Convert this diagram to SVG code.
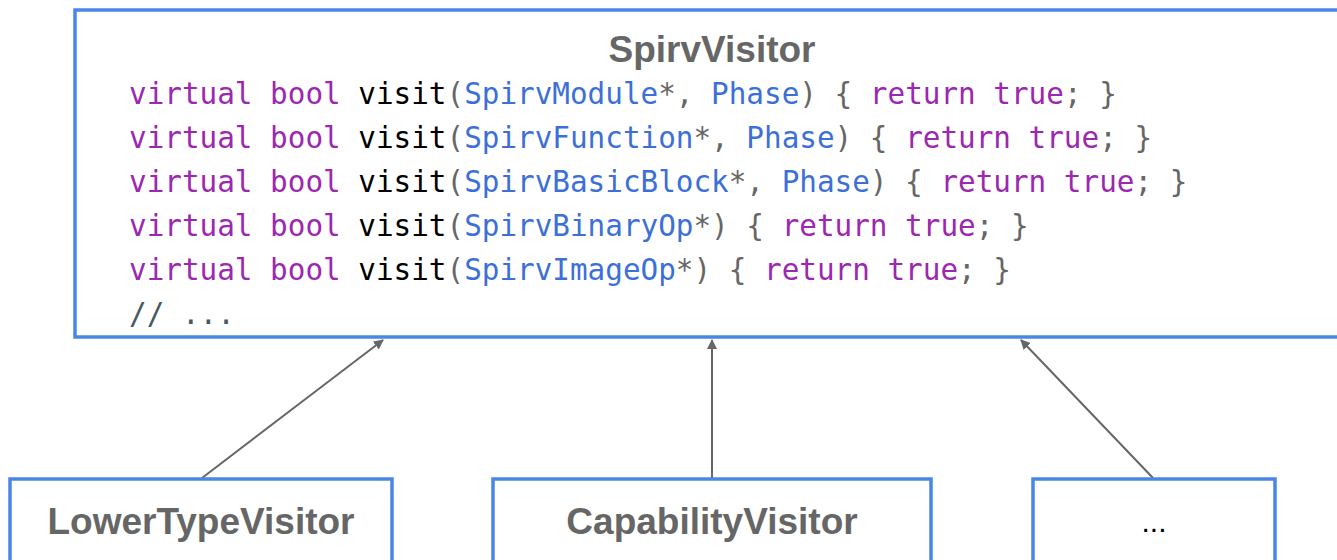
<svg xmlns="http://www.w3.org/2000/svg" width="1337" height="560" viewBox="0 0 1337 560">
<style>
.box{fill:#fff;stroke:#4a86e8;stroke-width:3.5}
.title{font-family:"Liberation Sans",Arial,sans-serif;font-weight:bold;font-size:37px;fill:#666;text-anchor:middle}
.code{font-family:"DejaVu Sans Mono","Liberation Mono",monospace;font-size:29.3px;fill:#666}
.k{fill:#9c27b0}
.t{fill:#3c6fd8}
.f{fill:#000}
.c{fill:#455a64}
.conn{stroke:#666;stroke-width:2;fill:none}
</style>
<defs>
<marker id="ah" markerWidth="10" markerHeight="10" refX="9" refY="5" orient="auto" markerUnits="userSpaceOnUse">
<path d="M0,0 L10,5 L0,10 Z" fill="#666"/>
</marker>
</defs>
<rect width="1337" height="560" fill="#fff"/>
<g id="spirvvisitor">
<rect class="box" x="75" y="10" width="1300" height="327"/>
<text class="title" x="712" y="62">SpirvVisitor</text>
<text class="code" x="129" y="104" xml:space="preserve"><tspan class="k">virtual bool </tspan><tspan class="f">visit</tspan>(<tspan class="t">SpirvModule</tspan>*, <tspan class="t">Phase</tspan>) { <tspan class="k">return true</tspan>; }</text>
<text class="code" x="129" y="148" xml:space="preserve"><tspan class="k">virtual bool </tspan><tspan class="f">visit</tspan>(<tspan class="t">SpirvFunction</tspan>*, <tspan class="t">Phase</tspan>) { <tspan class="k">return true</tspan>; }</text>
<text class="code" x="129" y="192" xml:space="preserve"><tspan class="k">virtual bool </tspan><tspan class="f">visit</tspan>(<tspan class="t">SpirvBasicBlock</tspan>*, <tspan class="t">Phase</tspan>) { <tspan class="k">return true</tspan>; }</text>
<text class="code" x="129" y="236" xml:space="preserve"><tspan class="k">virtual bool </tspan><tspan class="f">visit</tspan>(<tspan class="t">SpirvBinaryOp</tspan>*) { <tspan class="k">return true</tspan>; }</text>
<text class="code" x="129" y="280" xml:space="preserve"><tspan class="k">virtual bool </tspan><tspan class="f">visit</tspan>(<tspan class="t">SpirvImageOp</tspan>*) { <tspan class="k">return true</tspan>; }</text>
<text class="code c" x="129" y="324" xml:space="preserve">// ...</text>
</g>
<g id="connectors">
<line class="conn" x1="202" y1="478" x2="383" y2="340" marker-end="url(#ah)"/>
<line class="conn" x1="712" y1="478" x2="712" y2="340" marker-end="url(#ah)"/>
<line class="conn" x1="1153" y1="478" x2="1021" y2="340" marker-end="url(#ah)"/>
</g>
<g id="lowertypevisitor">
<rect class="box" x="10" y="479" width="382" height="120"/>
<text class="title" x="201" y="534">LowerTypeVisitor</text>
</g>
<g id="capabilityvisitor">
<rect class="box" x="493" y="479" width="438" height="120"/>
<text class="title" x="712" y="534">CapabilityVisitor</text>
</g>
<g id="more">
<rect class="box" x="1033" y="479" width="242" height="120"/>
<text x="1154" y="532" font-family="Liberation Sans,Arial,sans-serif" font-size="30" fill="#000" text-anchor="middle">...</text>
</g>
</svg>
